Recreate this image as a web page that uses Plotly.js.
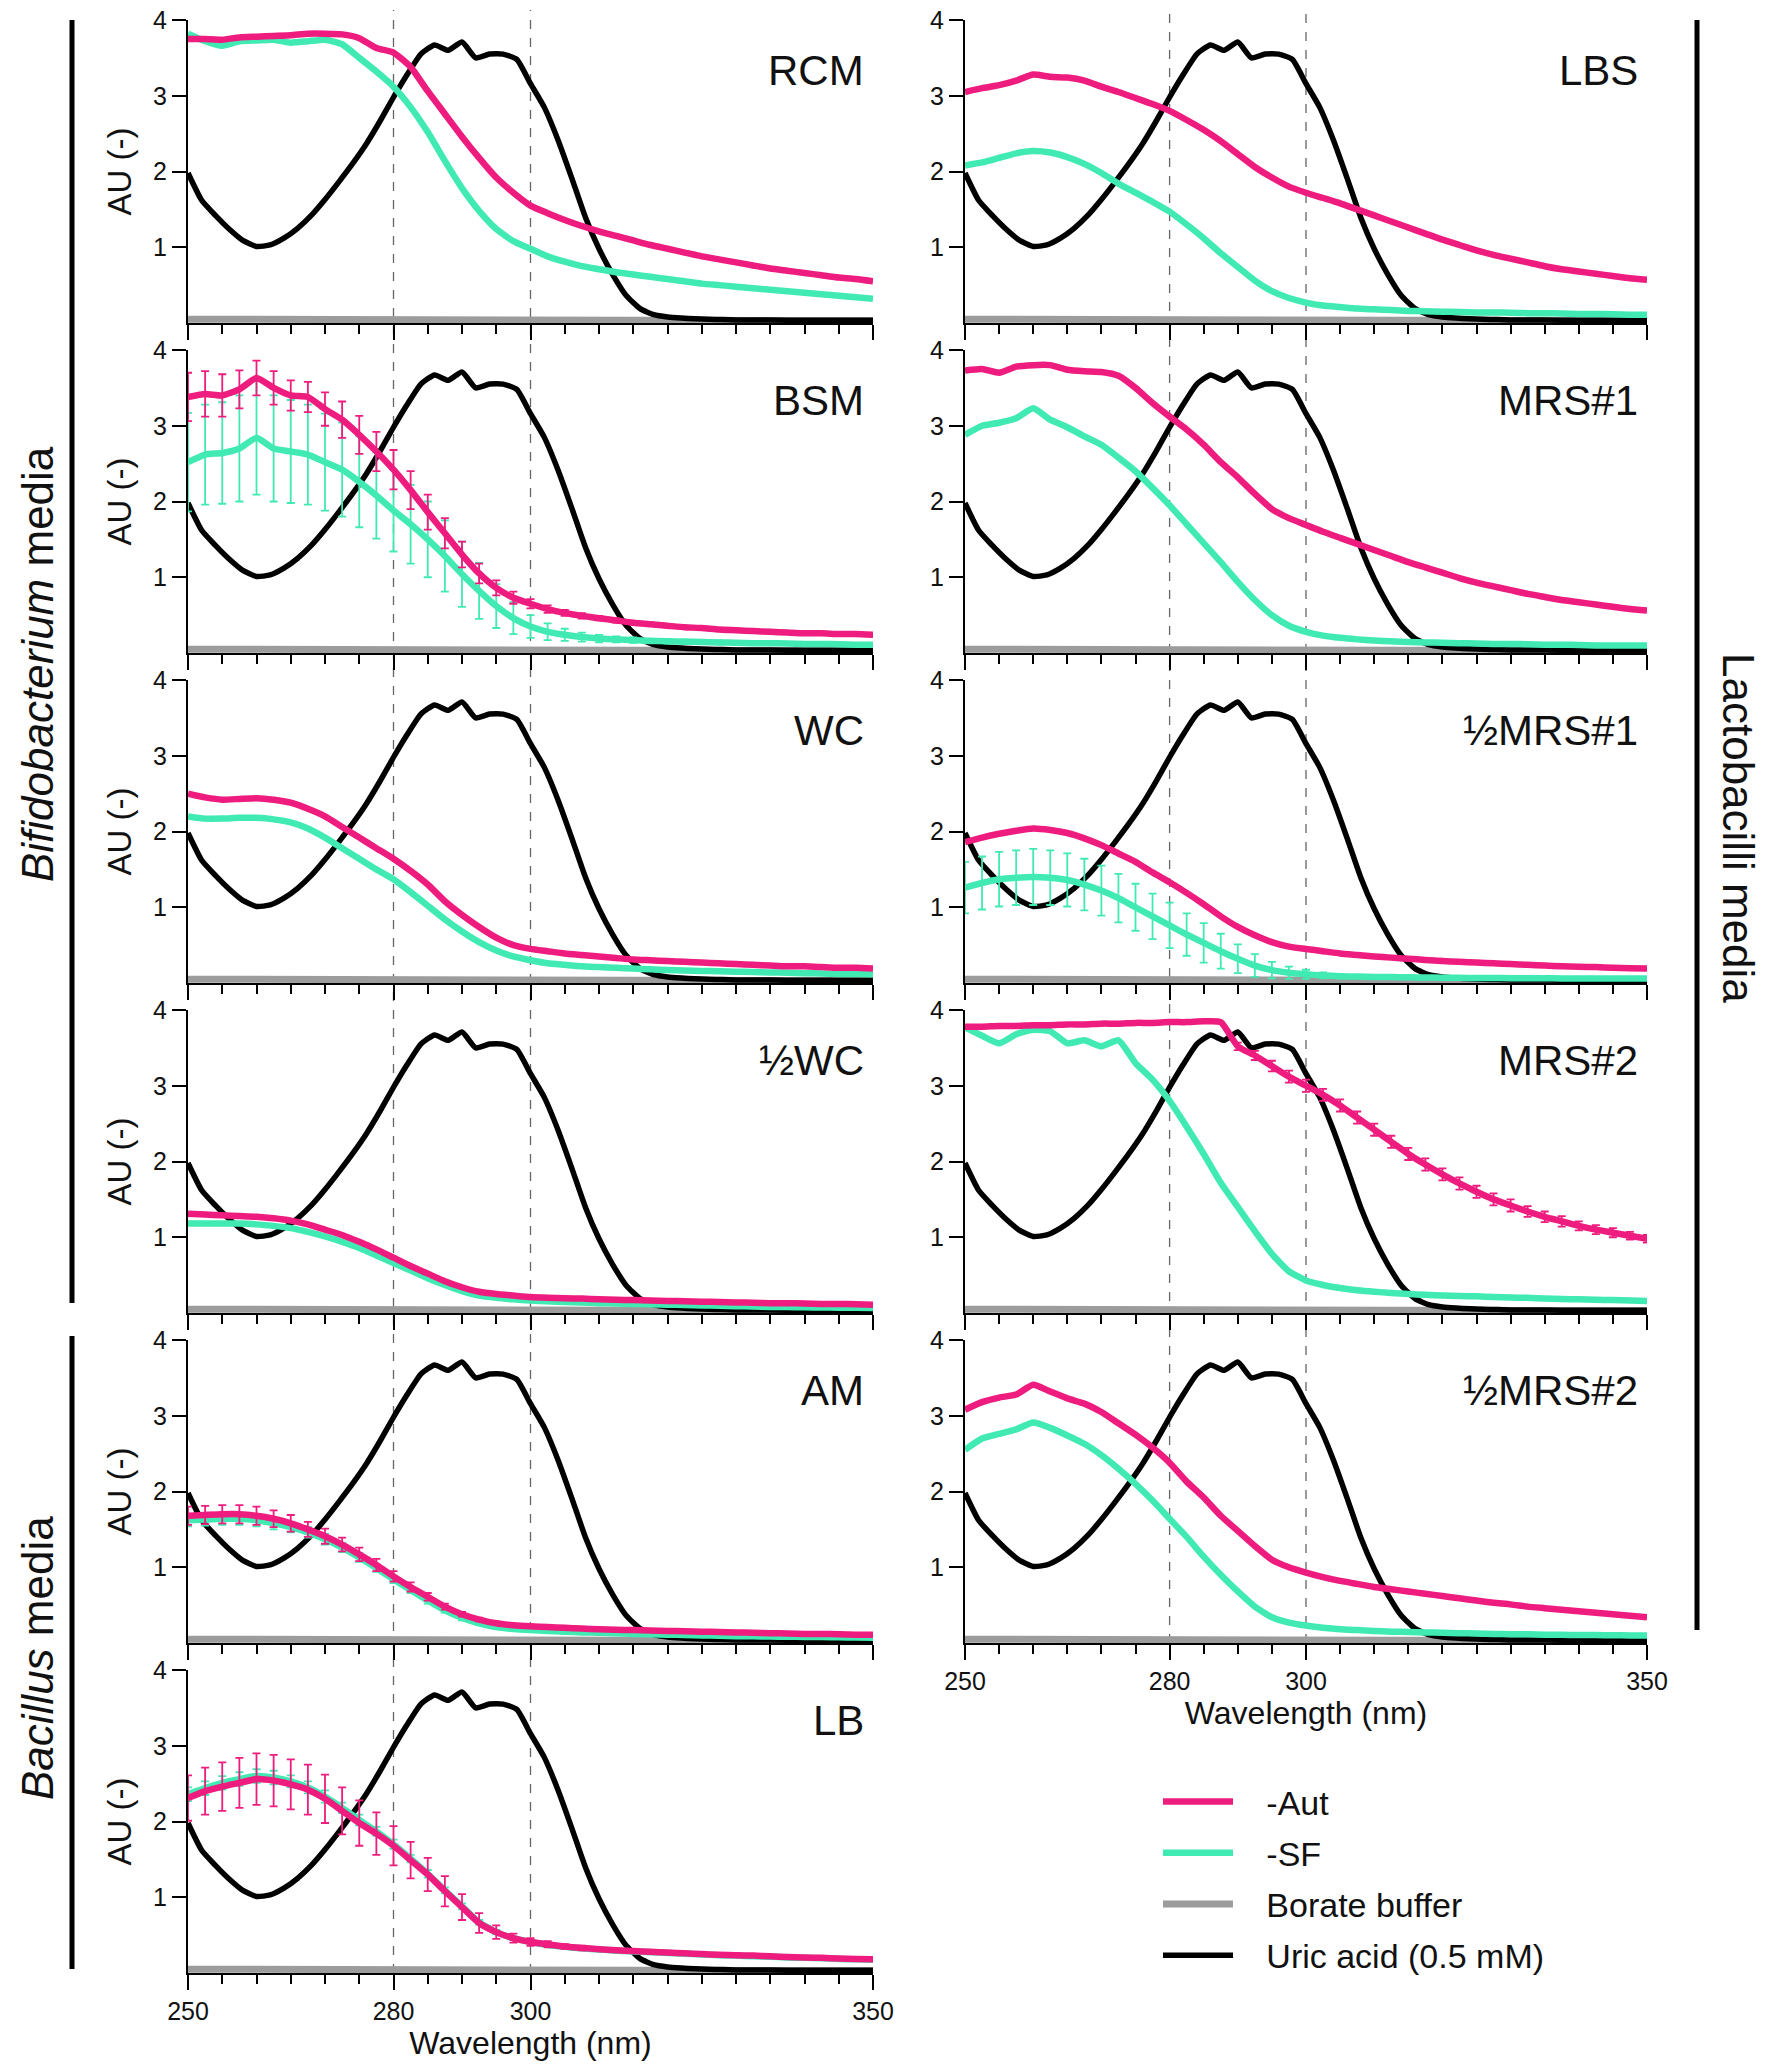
<!DOCTYPE html>
<html><head><meta charset="utf-8">
<script src="https://cdn.plot.ly/plotly-3.0.1.min.js"></script>
<style>body{margin:0;background:#fff}#chart{width:1772px;height:2064px}</style>
</head><body><div id="chart"></div>
<script>
// ---------- DATA ----------
const wavelength = [250,252.5,255,257.5,260,262.5,265,267.5,270,272.5,
 275,277.5,280,282.5,285,287.5,290,292.5,295,297.5,
 300,302.5,305,307.5,310,312.5,315,317.5,320,322.5,
 325,327.5,330,332.5,335,337.5,340,342.5,345,347.5,350];

const uricWavelength = [250,252,254,256,258,260,262,264,266,268,270,272,274,276,278,280,282,284,286,288,290,292,294,296,298,300,302,304,306,308,310,312,314,316,318,320,322,324,326,328,330,335,340,345,350];
const uricAcid = [1.98,1.62,1.42,1.24,1.09,1.01,1.03,1.12,1.25,1.42,1.63,1.86,2.10,2.36,2.66,2.98,3.28,3.55,3.67,3.60,3.71,3.50,3.55,3.55,3.48,3.16,2.85,2.42,1.92,1.40,0.98,0.64,0.36,0.19,0.11,0.08,0.065,0.055,0.05,0.045,0.04,0.04,0.035,0.035,0.035];

const borateWavelength = [250,255,260,265,270,275,280,285,290,295,300,305,310,315,320,325,330,335,340,345,350];
const borateBuffer = [0.05,0.05,0.045,0.045,0.045,0.04,0.04,0.04,0.04,0.04,0.04,0.04,0.035,0.035,0.035,0.035,0.035,0.035,0.03,0.03,0.03];

const panelNames = ['RCM','BSM','WC','½WC','AM','LB','LBS','MRS#1','½MRS#1','MRS#2','½MRS#2'];
const seriesNames = ['-Aut','-SF','Borate buffer','Uric acid (0.5 mM)'];
const xTickVals = [250,280,300,350];
const yTickVals = [1,2,3,4];
const groupLabels = ['<i>Bifidobacterium</i> media','<i>Bacillus</i> media','Lactobacilli media'];

const autRCM = [3.75,3.75,3.74,3.77,3.78,3.79,3.80,3.82,3.82,3.81,
 3.76,3.63,3.57,3.38,3.06,2.76,2.46,2.18,1.92,1.72,
 1.55,1.45,1.36,1.28,1.21,1.15,1.09,1.03,0.98,0.93,
 0.88,0.84,0.80,0.76,0.72,0.69,0.66,0.63,0.60,0.58,0.55];
const sfRCM = [3.82,3.72,3.66,3.72,3.73,3.74,3.70,3.72,3.74,3.68,
 3.50,3.32,3.12,2.85,2.52,2.14,1.78,1.48,1.24,1.08,
 0.98,0.88,0.81,0.75,0.71,0.67,0.64,0.61,0.58,0.55,
 0.52,0.50,0.48,0.46,0.44,0.42,0.40,0.38,0.36,0.34,0.32];

const autBSM = [3.38,3.42,3.40,3.48,3.63,3.50,3.40,3.38,3.22,3.08,
 2.88,2.66,2.42,2.15,1.86,1.58,1.30,1.05,0.86,0.73,
 0.65,0.58,0.53,0.49,0.46,0.43,0.40,0.38,0.36,0.34,
 0.33,0.31,0.30,0.29,0.28,0.27,0.26,0.26,0.25,0.25,0.24];
const autErrBSM = [0.32,0.30,0.28,0.25,0.23,0.22,0.20,0.20,0.22,0.24,
 0.25,0.26,0.26,0.25,0.23,0.20,0.17,0.13,0.10,0.08,
 0.06,0.05,0.04,0.035,0.03,0.03,0.025,0.025,0.02,0.02,
 0.02,0.02,0.02,0.02,0.02,0.02,0.02,0.02,0.02,0.02,0.02];
const sfBSM = [2.52,2.62,2.64,2.70,2.84,2.70,2.66,2.62,2.52,2.42,
 2.26,2.08,1.88,1.70,1.50,1.28,1.04,0.82,0.62,0.46,
 0.35,0.28,0.24,0.21,0.19,0.18,0.17,0.16,0.155,0.15,
 0.145,0.14,0.135,0.13,0.13,0.125,0.12,0.12,0.115,0.11,0.11];
const sfErrBSM = [0.65,0.66,0.67,0.70,0.75,0.70,0.68,0.66,0.64,0.62,
 0.60,0.57,0.54,0.52,0.50,0.47,0.43,0.37,0.29,0.21,
 0.15,0.11,0.08,0.06,0.05,0.04,0.035,0.03,0.03,0.03,
 0.025,0.025,0.025,0.02,0.02,0.02,0.02,0.02,0.02,0.02,0.02];

const autWC = [2.50,2.45,2.42,2.43,2.44,2.42,2.38,2.30,2.20,2.06,
 1.92,1.78,1.64,1.48,1.30,1.08,0.90,0.74,0.60,0.50,
 0.45,0.42,0.39,0.37,0.35,0.33,0.31,0.30,0.29,0.28,
 0.27,0.26,0.25,0.24,0.23,0.22,0.22,0.21,0.20,0.20,0.19];
const sfWC = [2.20,2.17,2.17,2.18,2.18,2.16,2.12,2.04,1.92,1.78,
 1.64,1.50,1.37,1.20,1.02,0.84,0.68,0.54,0.43,0.35,
 0.30,0.26,0.24,0.22,0.21,0.20,0.19,0.18,0.17,0.165,
 0.16,0.155,0.15,0.145,0.14,0.135,0.13,0.125,0.12,0.12,0.115];

const autHalfWC = [1.31,1.30,1.29,1.28,1.27,1.25,1.22,1.17,1.10,1.03,
 0.94,0.84,0.73,0.62,0.52,0.42,0.34,0.28,0.25,0.23,
 0.21,0.20,0.195,0.19,0.18,0.175,0.17,0.165,0.16,0.155,
 0.15,0.145,0.14,0.135,0.13,0.13,0.125,0.12,0.12,0.115,0.11];
const sfHalfWC = [1.18,1.18,1.18,1.18,1.17,1.15,1.12,1.07,1.01,0.94,
 0.86,0.76,0.66,0.56,0.46,0.37,0.29,0.23,0.20,0.18,
 0.165,0.155,0.145,0.14,0.13,0.125,0.12,0.115,0.11,0.105,
 0.10,0.095,0.09,0.085,0.08,0.078,0.075,0.072,0.07,0.068,0.065];

const autAM = [1.68,1.69,1.70,1.70,1.68,1.64,1.58,1.50,1.41,1.30,
 1.17,1.03,0.88,0.74,0.61,0.48,0.38,0.31,0.26,0.235,
 0.22,0.21,0.20,0.19,0.18,0.175,0.17,0.165,0.16,0.155,
 0.15,0.145,0.14,0.135,0.13,0.125,0.12,0.12,0.115,0.11,0.11];
const autErrAM = [0.12,0.12,0.12,0.12,0.12,0.11,0.11,0.10,0.10,0.09,
 0.09,0.08,0.07,0.06,0.05,0.04,0.03,0.025,0.02,0.02,
 0.02,0.02,0.02,0.02,0.02,0.02,0.02,0.02,0.02,0.02,
 0.02,0.02,0.02,0.02,0.02,0.02,0.02,0.02,0.02,0.02,0.02];
const sfAM = [1.62,1.63,1.64,1.64,1.62,1.58,1.53,1.46,1.37,1.26,
 1.13,0.99,0.84,0.70,0.56,0.43,0.33,0.26,0.21,0.185,
 0.17,0.16,0.15,0.14,0.135,0.13,0.12,0.115,0.11,0.105,
 0.10,0.095,0.09,0.088,0.085,0.082,0.08,0.078,0.075,0.072,0.07];
const sfErrAM = [0.08,0.08,0.08,0.08,0.08,0.08,0.07,0.07,0.07,0.06,
 0.06,0.05,0.05,0.04,0.04,0.03,0.03,0.02,0.02,0.02,
 0.02,0.02,0.02,0.02,0.02,0.02,0.02,0.02,0.02,0.02,
 0.02,0.02,0.02,0.02,0.02,0.02,0.02,0.02,0.02,0.02,0.02];

const autLB = [2.31,2.40,2.46,2.51,2.56,2.54,2.49,2.42,2.30,2.14,
 1.98,1.84,1.68,1.49,1.30,1.08,0.87,0.66,0.54,0.46,
 0.41,0.38,0.35,0.33,0.315,0.30,0.29,0.28,0.27,0.26,
 0.25,0.24,0.235,0.23,0.22,0.21,0.205,0.20,0.19,0.185,0.18];
const autErrLB = [0.30,0.31,0.32,0.33,0.34,0.34,0.33,0.33,0.32,0.31,
 0.30,0.28,0.26,0.24,0.22,0.20,0.17,0.13,0.09,0.06,
 0.05,0.04,0.03,0.03,0.02,0.02,0.02,0.02,0.02,0.02,
 0.02,0.02,0.02,0.02,0.02,0.02,0.02,0.02,0.02,0.02,0.02];
const sfLB = [2.36,2.44,2.51,2.56,2.60,2.58,2.53,2.45,2.33,2.18,
 2.02,1.87,1.70,1.51,1.31,1.09,0.88,0.67,0.54,0.46,
 0.41,0.37,0.345,0.325,0.31,0.295,0.285,0.275,0.265,0.255,
 0.245,0.235,0.23,0.22,0.215,0.205,0.20,0.195,0.185,0.18,0.175];
const sfErrLB = [0.09,0.09,0.09,0.09,0.09,0.09,0.08,0.08,0.08,0.07,
 0.07,0.06,0.06,0.05,0.05,0.04,0.04,0.03,0.03,0.02,
 0.02,0.02,0.02,0.02,0.02,0.02,0.02,0.02,0.02,0.02,
 0.02,0.02,0.02,0.02,0.02,0.02,0.02,0.02,0.02,0.02,0.02];

const autLBS = [3.05,3.10,3.14,3.20,3.28,3.25,3.24,3.20,3.12,3.05,
 2.97,2.89,2.80,2.68,2.55,2.40,2.23,2.06,1.92,1.80,
 1.72,1.65,1.58,1.50,1.42,1.34,1.26,1.18,1.10,1.03,
 0.96,0.90,0.85,0.80,0.75,0.71,0.68,0.65,0.62,0.59,0.57];
const sfLBS = [2.08,2.12,2.18,2.24,2.27,2.25,2.19,2.10,1.98,1.84,
 1.72,1.60,1.47,1.30,1.12,0.92,0.74,0.56,0.42,0.33,
 0.27,0.23,0.21,0.19,0.18,0.17,0.16,0.155,0.15,0.145,
 0.14,0.14,0.135,0.13,0.13,0.125,0.12,0.12,0.115,0.11,0.11];

const autMRS1 = [3.73,3.75,3.70,3.78,3.80,3.80,3.74,3.72,3.71,3.66,
 3.50,3.30,3.12,2.95,2.75,2.52,2.32,2.10,1.90,1.78,
 1.69,1.60,1.52,1.44,1.36,1.28,1.20,1.13,1.06,0.99,
 0.93,0.88,0.83,0.78,0.74,0.70,0.67,0.64,0.61,0.58,0.56];
const sfMRS1 = [2.88,3.00,3.04,3.10,3.23,3.08,2.98,2.86,2.75,2.58,
 2.40,2.18,1.95,1.70,1.45,1.20,0.94,0.70,0.50,0.36,
 0.28,0.23,0.20,0.18,0.165,0.155,0.145,0.14,0.135,0.13,
 0.125,0.12,0.12,0.115,0.11,0.11,0.105,0.10,0.10,0.10,0.10];

const autHalfMRS1 = [1.86,1.92,1.97,2.01,2.04,2.02,1.98,1.91,1.82,1.71,
 1.60,1.46,1.33,1.19,1.04,0.88,0.74,0.63,0.54,0.48,
 0.45,0.42,0.39,0.37,0.35,0.335,0.32,0.305,0.29,0.28,
 0.27,0.26,0.25,0.24,0.23,0.22,0.215,0.21,0.20,0.195,0.19];
const sfHalfMRS1 = [1.26,1.32,1.37,1.39,1.40,1.39,1.36,1.30,1.22,1.12,
 1.00,0.88,0.76,0.64,0.53,0.42,0.32,0.23,0.17,0.135,
 0.115,0.10,0.09,0.085,0.08,0.078,0.075,0.073,0.07,0.068,
 0.066,0.065,0.064,0.063,0.062,0.061,0.06,0.06,0.06,0.06,0.06];
const sfErrHalfMRS1 = [0.34,0.35,0.36,0.36,0.37,0.36,0.35,0.34,0.33,0.32,
 0.31,0.30,0.30,0.28,0.26,0.23,0.19,0.15,0.11,0.08,
 0.06,0.04,0.03,0.02,0.02,0.02,0.02,0.02,0.02,0.02,
 0.02,0.02,0.02,0.02,0.02,0.02,0.02,0.02,0.02,0.02,0.02];

const autMRS2 = [3.78,3.78,3.79,3.79,3.80,3.80,3.81,3.81,3.82,3.82,
 3.83,3.83,3.84,3.84,3.85,3.84,3.52,3.40,3.26,3.12,
 3.00,2.88,2.74,2.58,2.42,2.26,2.10,1.96,1.83,1.71,
 1.60,1.50,1.42,1.34,1.27,1.21,1.15,1.10,1.06,1.02,0.98];
const autErrMRS2 = [null,null,null,null,null,null,null,null,null,null,
 null,null,null,null,null,null,0.05,0.06,0.07,0.08,
 0.08,0.08,0.08,0.08,0.08,0.08,0.08,0.08,0.08,0.08,
 0.08,0.08,0.08,0.07,0.07,0.07,0.06,0.06,0.06,0.05,0.05];
const sfMRS2 = [3.77,3.66,3.56,3.68,3.74,3.72,3.56,3.60,3.52,3.60,
 3.30,3.08,2.80,2.46,2.10,1.72,1.40,1.08,0.78,0.55,
 0.43,0.37,0.33,0.30,0.28,0.265,0.25,0.24,0.23,0.225,
 0.22,0.21,0.205,0.20,0.19,0.185,0.18,0.175,0.17,0.165,0.16];

const autHalfMRS2 = [3.08,3.18,3.24,3.28,3.41,3.32,3.23,3.16,3.05,2.90,
 2.75,2.58,2.38,2.13,1.92,1.68,1.48,1.28,1.10,1.00,
 0.93,0.87,0.82,0.78,0.74,0.71,0.68,0.65,0.62,0.59,
 0.56,0.53,0.51,0.48,0.46,0.44,0.42,0.40,0.38,0.36,0.34];
const sfHalfMRS2 = [2.55,2.70,2.76,2.82,2.91,2.84,2.74,2.63,2.48,2.30,
 2.10,1.88,1.64,1.40,1.14,0.90,0.68,0.48,0.34,0.27,
 0.23,0.20,0.18,0.17,0.16,0.15,0.145,0.14,0.135,0.13,
 0.125,0.12,0.117,0.114,0.11,0.108,0.106,0.104,0.102,0.10,0.10];

// ---------- PANELS (data per medium) ----------
const panelData = {
  'RCM':     {aut: autRCM,      sf: sfRCM},
  'BSM':     {aut: autBSM,      sf: sfBSM,      autErr: autErrBSM, sfErr: sfErrBSM},
  'WC':      {aut: autWC,       sf: sfWC},
  '½WC':     {aut: autHalfWC,   sf: sfHalfWC},
  'AM':      {aut: autAM,       sf: sfAM,       autErr: autErrAM,  sfErr: sfErrAM},
  'LB':      {aut: autLB,       sf: sfLB,       autErr: autErrLB,  sfErr: sfErrLB},
  'LBS':     {aut: autLBS,      sf: sfLBS},
  'MRS#1':   {aut: autMRS1,     sf: sfMRS1},
  '½MRS#1':  {aut: autHalfMRS1, sf: sfHalfMRS1, sfErr: sfErrHalfMRS1},
  'MRS#2':   {aut: autMRS2,     sf: sfMRS2,     autErr: autErrMRS2},
  '½MRS#2':  {aut: autHalfMRS2, sf: sfHalfMRS2}
};

// ---------- LAYOUT / STYLE ----------
const W = 1772, H = 2064;
const COLORS = {aut:'#EE1C7E', sf:'#40EAB2', borate:'#9C9C9C', uric:'#000000'};
const FONT = 'Liberation Sans, Arial, Helvetica, sans-serif';
const colPx = [[188, 873], [965, 1647]];
const rowTop = r => 20 + 330 * r;
const rowH = 303;
const slot = {'RCM':[0,0],'BSM':[0,1],'WC':[0,2],'½WC':[0,3],'AM':[0,4],'LB':[0,5],
              'LBS':[1,0],'MRS#1':[1,1],'½MRS#1':[1,2],'MRS#2':[1,3],'½MRS#2':[1,4]};
const bottomPanels = ['LB','½MRS#2'];
const GAP = '\u00a0\u00a0\u00a0';

const traces = [];
const layout = {
  width: W, height: H, margin: {l:0, r:0, t:0, b:0},
  paper_bgcolor: '#fff', plot_bgcolor: 'rgba(0,0,0,0)',
  font: {family: FONT, color: '#000', size: 24},
  showlegend: true,
  legend: {x: 1158/W, y: 1 - 1773/H, xanchor: 'left', yanchor: 'top',
           font: {family: FONT, size: 34, color: '#111'}, itemwidth: 70,
           tracegroupgap: 4, bgcolor: 'rgba(0,0,0,0)', traceorder: 'grouped'},
  annotations: [], shapes: []
};

panelNames.forEach((name, i) => {
  const n = i + 1;
  const xa = 'x' + (n === 1 ? '' : n), ya = 'y' + (n === 1 ? '' : n);
  const [c, r] = slot[name];
  const d = panelData[name];
  const isBottom = bottomPanels.includes(name);
  const first = (i === 0);

  traces.push({x: borateWavelength, y: borateBuffer, xaxis: xa, yaxis: ya, type: 'scatter', mode: 'lines',
    name: GAP + seriesNames[2], legendgroup: 'g3', legendrank: 3, showlegend: first,
    line: {color: COLORS.borate, width: 7}});
  traces.push({x: uricWavelength, y: uricAcid, xaxis: xa, yaxis: ya, type: 'scatter', mode: 'lines',
    name: GAP + seriesNames[3], legendgroup: 'g4', legendrank: 4, showlegend: first,
    line: {color: COLORS.uric, width: 5.5, shape: 'spline', smoothing: 0.5}});
  const sfT = {x: wavelength, y: d.sf, xaxis: xa, yaxis: ya, type: 'scatter', mode: 'lines',
    name: GAP + seriesNames[1], legendgroup: 'g2', legendrank: 2, showlegend: first,
    line: {color: COLORS.sf, width: 6.5, shape: 'spline', smoothing: 0.5}};
  if (d.sfErr) sfT.error_y = {type: 'data', array: d.sfErr, visible: true, color: COLORS.sf, thickness: 1.8, width: 4};
  traces.push(sfT);
  const autT = {x: wavelength, y: d.aut, xaxis: xa, yaxis: ya, type: 'scatter', mode: 'lines',
    name: GAP + seriesNames[0], legendgroup: 'g1', legendrank: 1, showlegend: first,
    line: {color: COLORS.aut, width: 6.5, shape: 'spline', smoothing: 0.5}};
  if (d.autErr) autT.error_y = {type: 'data', array: d.autErr, visible: true, color: COLORS.aut, thickness: 1.8, width: 4};
  traces.push(autT);

  const top = rowTop(r), bot = top + rowH;
  const xKey = 'xaxis' + (n === 1 ? '' : n), yKey = 'yaxis' + (n === 1 ? '' : n);
  layout[xKey] = {
    domain: [colPx[c][0] / W, colPx[c][1] / W], anchor: ya, range: [250, 350],
    tickmode: 'array', tickvals: xTickVals, ticks: 'outside', ticklen: 15, tickwidth: 2, tickcolor: '#000',
    showline: true, linecolor: '#000', linewidth: 2, showgrid: false, zeroline: false,
    showticklabels: isBottom, tickfont: {size: 25, family: FONT, color: '#111'},
    minor: {dtick: 5, tick0: 250, ticks: 'outside', ticklen: 9, tickwidth: 2, tickcolor: '#000', showgrid: false},
    title: isBottom ? {text: 'Wavelength (nm)', font: {size: 32, family: FONT, color: '#111'}, standoff: 4} : {text: ''},
    automargin: false
  };
  layout[yKey] = {
    domain: [1 - bot / H, 1 - top / H], anchor: xa, range: [0, 4],
    tickmode: 'array', tickvals: yTickVals, ticks: 'outside', ticklen: 14, tickwidth: 2, tickcolor: '#000',
    showline: true, linecolor: '#000', linewidth: 2, showgrid: false, zeroline: false,
    tickfont: {size: 25, family: FONT, color: '#111'},
    title: c === 0 ? {text: 'AU (-)', font: {size: 33, family: FONT, color: '#111'}, standoff: 12} : {text: ''},
    automargin: false
  };
  layout.annotations.push({text: name, xref: xa + ' domain', yref: ya, x: 0.99, y: 3.33,
    xanchor: 'right', yanchor: 'middle', showarrow: false, font: {size: 42, family: FONT, color: '#111'}});
});

// dashed reference lines at 280 and 300 nm spanning each column
[280, 300].forEach(v => {
  layout.shapes.push({type: 'line', xref: 'x', yref: 'paper', x0: v, x1: v, y0: 1 - 1973 / H, y1: 1 - 10 / H,
    line: {color: '#666', width: 1.3, dash: 'dash'}, layer: 'below'});
  layout.shapes.push({type: 'line', xref: 'x7', yref: 'paper', x0: v, x1: v, y0: 1 - 1643 / H, y1: 1 - 10 / H,
    line: {color: '#666', width: 1.3, dash: 'dash'}, layer: 'below'});
});

// group bars and labels
const bars = [[72, 20, 1303], [72, 1336, 1969], [1697, 20, 1630]];
bars.forEach(([x, y0, y1]) => layout.shapes.push({type: 'line', xref: 'paper', yref: 'paper',
  x0: x / W, x1: x / W, y0: 1 - y0 / H, y1: 1 - y1 / H, line: {color: '#000', width: 5}}));
const labelPos = [[37, 664, -90], [37, 1658, -90], [1739, 828, 90]];
groupLabels.forEach((t, k) => layout.annotations.push({text: t, xref: 'paper', yref: 'paper',
  x: labelPos[k][0] / W, y: 1 - labelPos[k][1] / H, xanchor: 'center', yanchor: 'middle',
  textangle: labelPos[k][2], showarrow: false, font: {size: 44, family: FONT, color: '#111'}}));

Plotly.newPlot('chart', traces, layout, {staticPlot: true});
</script></body></html>
